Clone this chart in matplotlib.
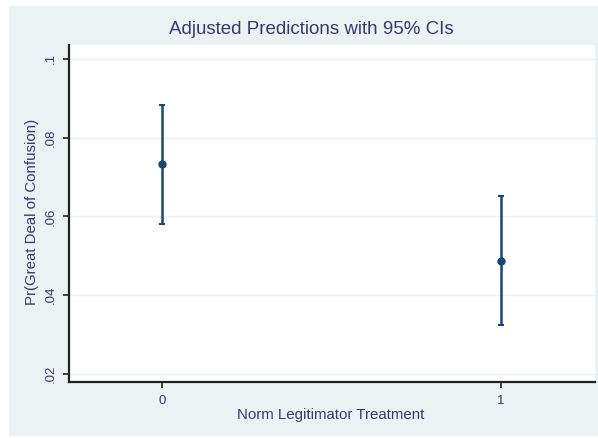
import matplotlib
matplotlib.use("Agg")
import matplotlib.pyplot as plt
from matplotlib.patches import Rectangle

# Adjusted predictions by treatment group
groups = [0, 1]
group_labels = ["0", "1"]
predicted = [0.0733, 0.0488]
ci_lower = [0.0581, 0.0325]
ci_upper = [0.0882, 0.0651]
yticks = [0.02, 0.04, 0.06, 0.08, 0.10]
ytick_labels = [".02", ".04", ".06", ".08", ".1"]

W, H = 598, 438
fig = plt.figure(figsize=(W / 100, H / 100), dpi=100)
fig.patch.set_facecolor("white")

bg = "#eaf2f3"
navy = "#1a476f"
text_col = "#3a3a6a"
font = ["Liberation Sans", "DejaVu Sans"]

# graph region background
fig.add_artist(Rectangle((9 / W, 1 - 436 / H), (598 - 9) / W, (436 - 6) / H,
                         transform=fig.transFigure, facecolor=bg,
                         edgecolor="none", zorder=0))

ax = fig.add_axes([69 / W, 1 - 382 / H, (595 - 69) / W, (382 - 45) / H])
ax.set_facecolor("white")
ax.set_zorder(1)

lower_err = [p - l for p, l in zip(predicted, ci_lower)]
upper_err = [u - p for p, u in zip(predicted, ci_upper)]
ax.errorbar(groups, predicted, yerr=[lower_err, upper_err], fmt="o",
            color=navy, ecolor=navy, elinewidth=1.8, capsize=2.3,
            capthick=1.5, markersize=5, zorder=3)

ax.set_xlim(-0.275, 1.277)
ax.set_ylim(0.018, 0.1035)
ax.set_xticks(groups)
ax.set_xticklabels(group_labels)
ax.set_yticks(yticks)
ax.set_yticklabels(ytick_labels, rotation=90, va="center")
ax.grid(axis="y", color=bg, linewidth=1.0)
ax.set_axisbelow(True)

for side in ("top", "right"):
    ax.spines[side].set_visible(False)
for side in ("left", "bottom"):
    ax.spines[side].set_color("#222222")
    ax.spines[side].set_linewidth(1.6)

ax.tick_params(axis="both", colors="#222222", labelcolor=text_col,
               labelsize=9.5, length=4.5, width=1.2)
ax.tick_params(axis="y", pad=4)
ax.tick_params(axis="x", pad=4.5)
for lab in ax.get_xticklabels() + ax.get_yticklabels():
    lab.set_family(font)

fig.text(331 / W, 1 - 415 / H, "Norm Legitimator Treatment",
         ha="center", va="center", fontsize=10.8, color=text_col, family=font)
fig.text(32 / W, 1 - 212 / H, "Pr(Great Deal of Confusion)", rotation=90,
         ha="center", va="center", fontsize=10.8, color=text_col, family=font)
fig.text(311 / W, 1 - 30 / H, "Adjusted Predictions with 95% CIs",
         ha="center", va="center", fontsize=13.5, color=text_col, family=font)

fig.savefig("out.png", dpi=100, facecolor=fig.get_facecolor())
